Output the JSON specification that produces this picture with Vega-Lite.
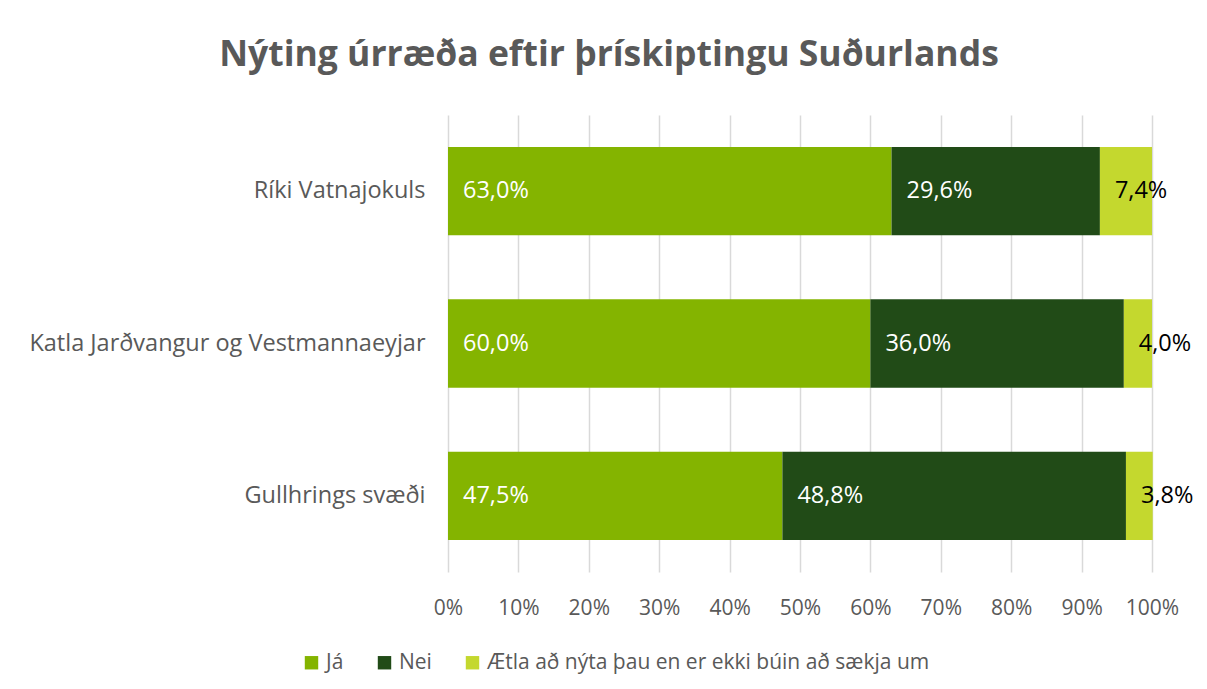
{
  "$schema": "https://vega.github.io/schema/vega-lite/v6.json",
  "autosize": {"type": "none"},
  "width": 704,
  "height": 457,
  "padding": {"left": 448, "top": 115, "right": 55, "bottom": 117},
  "background": "white",
  "config": {
    "locale": {"number": {"decimal": ",", "thousands": ".", "grouping": [3], "currency": ["", " kr."]}},
    "font": "Open Sans",
    "view": {"stroke": null}
  },
  "title": {
    "text": "Nýting úrræða eftir þrískiptingu Suðurlands",
    "anchor": "middle",
    "dx": -191,
    "offset": 42,
    "fontSize": 35.5,
    "fontWeight": "bold",
    "color": "#595959",
    "font": "Open Sans"
  },
  "data": {
    "values": [
      {"svaedi": "Ríki Vatnajokuls", "svar": "Já", "rod": 1, "hlutfall": 0.630},
      {"svaedi": "Ríki Vatnajokuls", "svar": "Nei", "rod": 2, "hlutfall": 0.296},
      {"svaedi": "Ríki Vatnajokuls", "svar": "Ætla að nýta þau en er ekki búin að sækja um", "rod": 3, "hlutfall": 0.074},
      {"svaedi": "Katla Jarðvangur og Vestmannaeyjar", "svar": "Já", "rod": 1, "hlutfall": 0.600},
      {"svaedi": "Katla Jarðvangur og Vestmannaeyjar", "svar": "Nei", "rod": 2, "hlutfall": 0.360},
      {"svaedi": "Katla Jarðvangur og Vestmannaeyjar", "svar": "Ætla að nýta þau en er ekki búin að sækja um", "rod": 3, "hlutfall": 0.040},
      {"svaedi": "Gullhrings svæði", "svar": "Já", "rod": 1, "hlutfall": 0.475},
      {"svaedi": "Gullhrings svæði", "svar": "Nei", "rod": 2, "hlutfall": 0.488},
      {"svaedi": "Gullhrings svæði", "svar": "Ætla að nýta þau en er ekki búin að sækja um", "rod": 3, "hlutfall": 0.038}
    ]
  },
  "transform": [
    {"stack": "hlutfall", "groupby": ["svaedi"], "sort": [{"field": "rod", "order": "ascending"}], "as": ["byrjun", "endir"]},
    {"calculate": "datum.rod == 3 ? 'black' : 'white'", "as": "litur"}
  ],
  "encoding": {
    "y": {
      "field": "svaedi",
      "type": "nominal",
      "sort": ["Ríki Vatnajokuls", "Katla Jarðvangur og Vestmannaeyjar", "Gullhrings svæði"],
      "scale": {"paddingInner": 0.42, "paddingOuter": 0.21},
      "axis": {
        "title": null,
        "domain": false,
        "ticks": false,
        "labelFontSize": 23.5,
        "labelColor": "#595959",
        "labelPadding": 23,
        "labelLimit": 500
      }
    }
  },
  "layer": [
    {
      "mark": {"type": "bar"},
      "encoding": {
        "x": {
          "field": "byrjun",
          "type": "quantitative",
          "scale": {"domain": [0, 1], "nice": false},
          "axis": {
            "title": null,
            "format": ".0%",
            "values": [0, 0.1, 0.2, 0.3, 0.4, 0.5, 0.6, 0.7, 0.8, 0.9, 1],
            "labelOverlap": false,
            "domain": false,
            "ticks": false,
            "grid": true,
            "gridColor": "#d9d9d9",
            "gridWidth": 1.5,
            "labelFontSize": 21,
            "labelColor": "#595959",
            "labelPadding": 25,
            "labelFlush": false
          }
        },
        "x2": {"field": "endir"},
        "color": {
          "field": "svar",
          "type": "nominal",
          "sort": ["Já", "Nei", "Ætla að nýta þau en er ekki búin að sækja um"],
          "scale": {
            "domain": ["Já", "Nei", "Ætla að nýta þau en er ekki búin að sækja um"],
            "range": ["#84b400", "#214b17", "#c4d82e"]
          },
          "legend": {
            "title": null,
            "orient": "none",
            "direction": "horizontal",
            "legendX": -147,
            "legendY": 537,
            "symbolType": "square",
            "symbolSize": 180,
            "symbolStrokeWidth": 0,
            "labelFontSize": 21,
            "labelColor": "#595959",
            "labelOffset": 4,
            "labelLimit": 600,
            "columnPadding": 30
          }
        }
      }
    },
    {
      "mark": {"type": "text", "align": "left", "baseline": "middle", "dx": 15, "fontSize": 23.5},
      "encoding": {
        "x": {"field": "byrjun", "type": "quantitative"},
        "text": {"field": "hlutfall", "type": "quantitative", "format": ".1%"},
        "color": {"field": "litur", "type": "nominal", "scale": null}
      }
    }
  ]
}
